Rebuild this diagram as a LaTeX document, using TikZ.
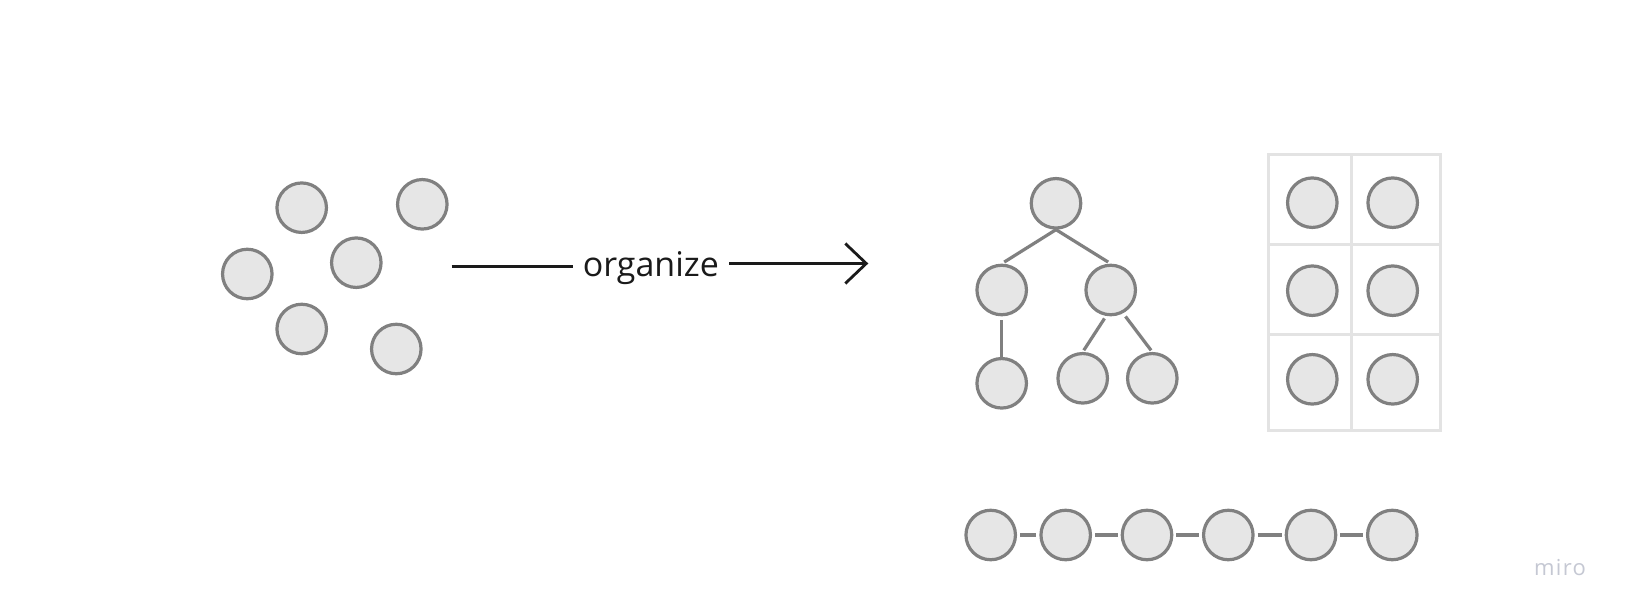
\documentclass[tikz,border=0pt]{standalone}
\usepackage{fontspec}
\setmainfont{Open Sans}
\usetikzlibrary{arrows.meta}
\definecolor{cfill}{HTML}{E6E6E6}
\definecolor{cline}{HTML}{808080}
\definecolor{gridc}{HTML}{E3E3E3}
\definecolor{arrowc}{HTML}{1A1A1A}
\definecolor{miroc}{HTML}{C5C8D3}
\tikzset{
  ball/.style={circle, draw=cline, fill=cfill, line width=3.2pt, minimum size=49.5pt, inner sep=0pt},
  link/.style={draw=cline, line width=3.2pt},
  gridline/.style={draw=gridc, line width=3pt},
  flow/.style={draw=arrowc, line width=2.8pt},
}
\begin{document}
\begin{tikzpicture}[x=1pt,y=-1pt]
\useasboundingbox[fill=white] (0,0) rectangle (1625,615);
% scattered circles
\node[ball] (s1) at (301.7,207.7) {};
\node[ball] (s2) at (422.3,204.3) {};
\node[ball] (s3) at (356.3,262.7) {};
\node[ball] (s4) at (247.3,274) {};
\node[ball] (s5) at (301.7,329) {};
\node[ball] (s6) at (396.3,349) {};
% arrow with label
\coordinate (as) at (451.7,266.7);
\coordinate (at) at (868.3,263.5);
\node[anchor=base, font=\fontsize{34}{40}\selectfont, text=arrowc, inner xsep=10pt, inner ysep=0pt] (lbl) at (650.8,276.5) {organize};
\draw[flow] (as) -- (lbl.west |- as);
\draw[flow, -{Straight Barb[length=21pt,width=40pt]}] (lbl.east |- at) -- (at);
% tree
\node[ball] (t0) at (1056,203.3) {};
\node[ball] (t1) at (1001.7,290) {};
\node[ball] (t2) at (1110.7,290) {};
\node[ball] (t3) at (1001.7,383.3) {};
\node[ball] (t4) at (1082.7,378.3) {};
\node[ball] (t5) at (1152.3,378.3) {};
\draw[link, shorten >=3pt] (t0.south) -- (t1.north);
\draw[link, shorten >=3pt] (t0.south) -- (t2.north);
\draw[link, shorten <=4pt] (t1.south) -- (t3.north);
\draw[link, shorten <=3pt, shorten >=2pt] (t2.-100) -- (t4.north);
\draw[link, shorten <=4pt, shorten >=2pt] (t2.-62) -- (t5.north);
% grid
\coordinate (gtl) at (1268.3,155);
\coordinate (gbr) at (1440,430.7);
\coordinate (gmt) at (1351.7,155);
\coordinate (gmb) at (1351.7,430.7);
\coordinate (gr1l) at (1268.3,244.3);
\coordinate (gr1r) at (1440,244.3);
\coordinate (gr2l) at (1268.3,334);
\coordinate (gr2r) at (1440,334);
\draw[gridline] (gtl) rectangle (gbr);
\draw[gridline] (gmt) -- (gmb);
\draw[gridline] (gr1l) -- (gr1r);
\draw[gridline] (gr2l) -- (gr2r);
\node[ball] (g11) at (1312.3,202.7) {};
\node[ball] (g12) at (1392.7,202.7) {};
\node[ball] (g21) at (1312.3,290.7) {};
\node[ball] (g22) at (1392.7,290.7) {};
\node[ball] (g31) at (1312.3,379.3) {};
\node[ball] (g32) at (1392.7,379.3) {};
% chain
\node[ball] (c1) at (990.7,535) {};
\node[ball] (c2) at (1065.7,535) {};
\node[ball] (c3) at (1147,535) {};
\node[ball] (c4) at (1228.3,535) {};
\node[ball] (c5) at (1311,535) {};
\node[ball] (c6) at (1392.3,535) {};
\foreach \a/\b in {c1/c2,c2/c3,c3/c4,c4/c5,c5/c6}
  \draw[link, shorten <=3pt, shorten >=3pt] (\a.east) -- (\b.west);
% watermark
\node[font=\fontsize{22}{26}\selectfont\addfontfeatures{LetterSpace=6}, text=miroc] (miro) at (1560,568) {miro};
\end{tikzpicture}
\end{document}
